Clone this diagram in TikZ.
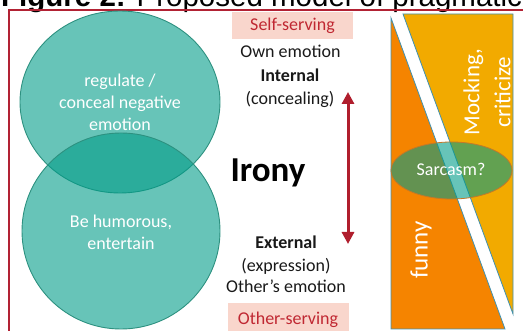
\documentclass[tikz,border=0pt]{standalone}
\usepackage{fontspec}
\setmainfont{Carlito}
\newfontfamily\titlefont{Liberation Sans}
\usetikzlibrary{arrows.meta}

\definecolor{venn}{RGB}{2,156,136}
\definecolor{vennline}{RGB}{45,145,128}
\definecolor{framered}{RGB}{178,34,52}
\definecolor{arrowred}{RGB}{176,30,45}
\definecolor{tagfill}{RGB}{249,214,204}
\definecolor{tagtext}{RGB}{192,40,50}
\definecolor{funnyorange}{RGB}{245,132,0}
\definecolor{mockyellow}{RGB}{242,170,0}
\definecolor{panelline}{RGB}{65,145,176}
\definecolor{sarcline}{RGB}{196,120,40}

\tikzset{
  vennset/.style={fill=venn, fill opacity=0.6, draw=vennline, line width=0.9pt},
  venntext/.style={text=white, font=\fontsize{18}{22}\selectfont, align=center, anchor=base},
  sidetext/.style={text=black!90, font=\fontsize{18}{22}\selectfont, anchor=base},
  tag/.style={fill=tagfill, text=tagtext, font=\fontsize{18}{22}\selectfont,
              minimum width=121pt, minimum height=27pt, inner sep=0pt},
  wedge/.style={draw=panelline, line width=0.8pt},
  rottext/.style={text=white, rotate=90, align=center},
  bothway/.style={draw=arrowred, line width=3pt,
                  {Triangle[width=12pt,length=12pt]}-{Triangle[width=12pt,length=12pt]}},
}

\begin{document}
\begin{tikzpicture}[x=1pt,y=-1pt]
\useasboundingbox (0,0) rectangle (523,331);
\clip (0,0) rectangle (523,331);

% caption running above the frame
\node[anchor=base west, inner sep=0pt, font=\titlefont\fontsize{29.5}{32}\selectfont]
  (caption) at (1,7) {\textbf{Figure 2:} Proposed model of pragmatic};

% frame
\draw[framered, line width=2pt] (9,345) -- (9,10) -- (540,10);

% two overlapping goals
\path[vennset] (120,102) ellipse [x radius=100, y radius=91];
\path[vennset] (121,231) ellipse [x radius=99, y radius=98];
% multi-line nodes: the base anchor sits on the last line
\node[venntext] (conceal) at (120,131) {regulate /\\conceal negative\\emotion};
\node[venntext] (humour) at (121,250) {Be humorous,\\entertain};

% middle column
\node[tag] (self) at (292.5,25.5) {Self-serving};
\node[sidetext] (own) at (290.5,58) {Own emotion};
\node[sidetext, font=\fontsize{18}{22}\selectfont\bfseries] (internal) at (290,82) {Internal};
\node[sidetext] (concealing) at (290,105) {(concealing)};

\node[anchor=base, font=\fontsize{35}{40}\selectfont\bfseries] (irony) at (268,181.5) {Irony};

\node[sidetext, font=\fontsize{18}{22}\selectfont\bfseries] (external) at (286,249) {External};
\node[sidetext] (expression) at (286,272) {(expression)};
\node[sidetext] (others) at (286,293) {Other’s emotion};
\node[tag, minimum height=28pt] (other) at (288,317) {};
\node[anchor=base, text=tagtext, font=\fontsize{18}{22}\selectfont] (otherlbl) at (288,325) {Other-serving};

\coordinate (arrTop) at (348,92);
\coordinate (arrBot) at (348,244);
\draw[bothway] (arrTop) -- (arrBot);

% right panel: funny vs. mocking
\path[wedge, fill=mockyellow] (403,14) -- (513,14) -- (513,314) -- cycle;
\path[wedge, fill=funnyorange] (391,18) -- (391,329) -- (505,329) -- cycle;
\path[fill=venn, fill opacity=0.6, draw=sarcline, line width=0.8pt]
  (451.5,170.5) ellipse [x radius=60.5, y radius=28.5];
\node[anchor=base, text=white, font=\fontsize{18}{22}\selectfont] (sarcasm) at (451,176) {Sarcasm?};
\node[rottext, font=\fontsize{23}{31}\selectfont] (mocking) at (487,92) {Mocking,\\criticize};
\node[rottext, font=\fontsize{25}{30}\selectfont] (funny) at (421,250) {funny};
\end{tikzpicture}
\end{document}
